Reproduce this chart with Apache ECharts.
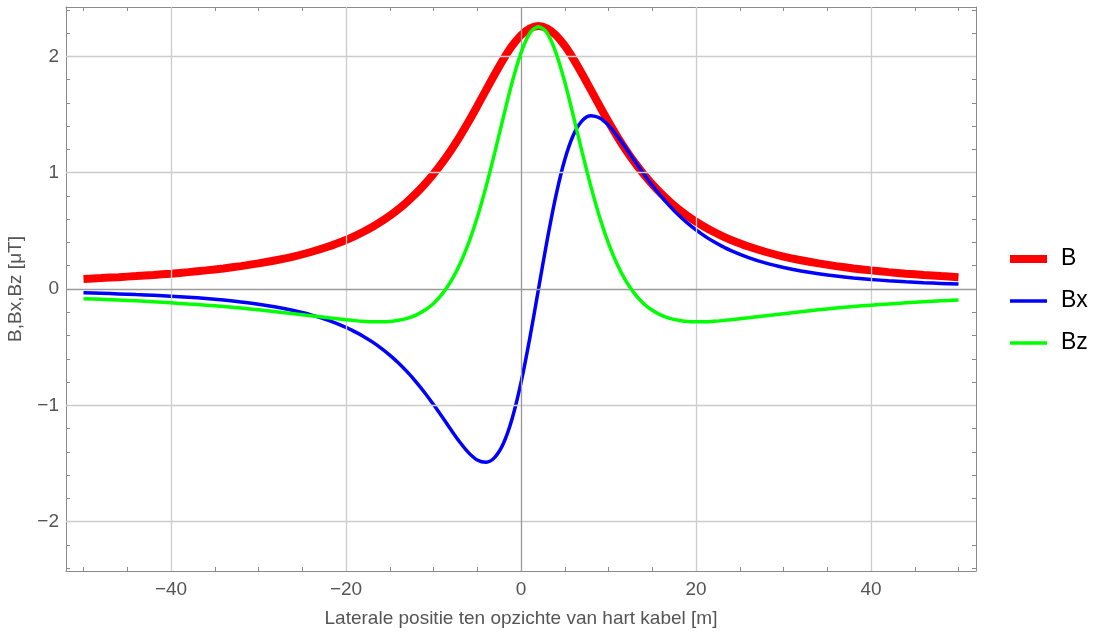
<!DOCTYPE html>
<html>
<head>
<meta charset="utf-8">
<script src="https://cdn.jsdelivr.net/npm/echarts@6/dist/echarts.min.js"></script>
<style>
html,body{margin:0;padding:0;background:#fff;}
#c{width:1093px;height:632px;}
</style>
</head>
<body>
<div id="c"></div>
<script>
// Lateral position [m]
var xs = [-50,-48,-46,-44,-42,-40,-38,-36,-34,-32,-30,-28,-26,-24,-22,
  -20,-19,-18,-17,-16,-15,-14,-13,-12,-11,-10,-9,-8,-7,-6,-5,-4,-3,-2,-1,
  0,1,2,3,4,5,6,7,8,9,10,11,12,13,14,15,16,17,18,19,20,21,22,23,24,
  26,28,30,32,34,36,38,40,42,44,46,48,50];
// B total [uT]
var seriesB = [0.087,0.094,0.102,0.111,0.121,0.132,0.145,0.160,0.177,0.197,0.220,0.247,0.279,0.318,0.365,
  0.422,0.455,0.492,0.533,0.579,0.630,0.687,0.751,0.822,0.901,0.989,1.086,1.194,1.311,1.438,1.572,1.710,1.847,1.977,2.092,
  2.182,2.240,2.262,2.240,2.182,2.092,1.977,1.847,1.710,1.572,1.438,1.311,1.194,1.086,0.989,0.901,0.822,0.751,0.687,0.630,0.579,0.533,0.492,0.455,0.422,
  0.365,0.318,0.279,0.247,0.220,0.197,0.177,0.160,0.145,0.132,0.121,0.111,0.102];
// Bx [uT]
var seriesBx = [-0.033,-0.037,-0.042,-0.048,-0.054,-0.062,-0.071,-0.082,-0.095,-0.111,-0.131,-0.155,-0.185,-0.222,-0.270,
  -0.330,-0.367,-0.408,-0.455,-0.508,-0.568,-0.636,-0.713,-0.798,-0.892,-0.994,-1.101,-1.211,-1.316,-1.407,-1.470,-1.490,-1.448,-1.327,-1.112,
  -0.806,-0.425,0.000,0.425,0.806,1.112,1.327,1.448,1.490,1.470,1.407,1.316,1.211,1.101,0.994,0.892,0.798,0.713,0.636,0.568,0.508,0.455,0.408,0.367,0.330,
  0.270,0.222,0.185,0.155,0.131,0.111,0.095,0.082,0.071,0.062,0.054,0.048,0.042];
// Bz [uT]
var seriesBz = [-0.083,-0.089,-0.095,-0.102,-0.110,-0.119,-0.129,-0.139,-0.151,-0.164,-0.179,-0.195,-0.212,-0.230,-0.248,
  -0.265,-0.272,-0.278,-0.282,-0.282,-0.279,-0.269,-0.252,-0.224,-0.183,-0.124,-0.042,0.068,0.211,0.392,0.615,0.878,1.173,1.483,1.781,
  2.031,2.200,2.255,2.200,2.031,1.781,1.483,1.173,0.878,0.615,0.392,0.211,0.068,-0.042,-0.124,-0.183,-0.224,-0.252,-0.269,-0.279,-0.282,-0.282,-0.278,-0.272,-0.265,
  -0.248,-0.230,-0.212,-0.195,-0.179,-0.164,-0.151,-0.139,-0.129,-0.119,-0.110,-0.102,-0.095];

var xMajor = [-40,-20,0,20,40];
var xMinor = [-50,-45,-40,-35,-30,-25,-20,-15,-10,-5,0,5,10,15,20,25,30,35,40,45,50];
var yMajor = [-2,-1,0,1,2];
var yMinor = [-2.4,-2.2,-2,-1.8,-1.6,-1.4,-1.2,-1,-0.8,-0.6,-0.4,-0.2,0,0.2,0.4,0.6,0.8,1,1.2,1.4,1.6,1.8,2,2.2,2.4];
var names = ['B','Bx','Bz'];
var xTitle = 'Laterale positie ten opzichte van hart kabel [m]';
var yTitle = 'B,Bx,Bz [\u03bcT]';

function pairs(ys){ return xs.map(function(x,i){ return [x, ys[i]]; }); }
function fmt(v){ return v < 0 ? '\u2212' + Math.abs(v) : String(v); }

var FONT = 'Liberation Sans, Arial, sans-serif';
var frameColor = '#8a8a8a';
var labelColor = '#555555';

var gridLines = [];
xMajor.forEach(function(v){ if (v !== 0) gridLines.push({xAxis: v}); });
yMajor.forEach(function(v){ if (v !== 0) gridLines.push({yAxis: v}); });

function xAx(pos, showLabel){
  return {
    type:'value', position:pos, min:-52, max:52,
    axisLine:{show:true, onZero:false, lineStyle:{color:frameColor, width:1}},
    axisTick:{show:true, inside:true, length:4, customValues:xMinor, lineStyle:{color:frameColor}},
    axisLabel:{show:showLabel, customValues:xMajor, formatter:fmt, fontSize:19, color:labelColor, fontFamily:FONT, margin:9},
    splitLine:{show:false},
    name: showLabel ? xTitle : '', nameLocation:'middle', nameGap:38,
    nameTextStyle:{fontSize:19, color:labelColor, fontFamily:FONT}
  };
}
function yAx(pos, showLabel){
  return {
    type:'value', position:pos, min:-2.425, max:2.425,
    axisLine:{show:true, onZero:false, lineStyle:{color:frameColor, width:1}},
    axisTick:{show:true, inside:true, length:4, customValues:yMinor, lineStyle:{color:frameColor}},
    axisLabel:{show:showLabel, customValues:yMajor, formatter:fmt, fontSize:19, color:labelColor, fontFamily:FONT, margin:7},
    splitLine:{show:false},
    name: showLabel ? yTitle : '', nameLocation:'middle', nameGap:41, nameRotate:90,
    nameTextStyle:{fontSize:19, color:labelColor, fontFamily:FONT}
  };
}

var chart = echarts.init(document.getElementById('c'), null, {renderer:'canvas'});
chart.setOption({
  animation:false,
  backgroundColor:'#ffffff',
  grid:{left:66, right:117, top:7, bottom:61, containLabel:false, outerBoundsMode:'none'},
  xAxis:[xAx('bottom', true), xAx('top', false)],
  yAxis:[yAx('left', true), yAx('right', false)],
  legend:{
    orient:'vertical', left:1010, top:247, padding:0, itemWidth:37, itemHeight:8, itemGap:18,
    textStyle:{fontSize:23, color:'#000', fontFamily:FONT, lineHeight:24, padding:[0,0,0,9]},
    data:[
      {name:'B', icon:'path://M0,0L37,0L37,8L0,8Z'},
      {name:'Bx', icon:'path://M0,0L37,0L37,3.5L0,3.5Z'},
      {name:'Bz', icon:'path://M0,0L37,0L37,3.5L0,3.5Z'}
    ]
  },
  series:[
    {
      name:'_grid', type:'line', data:[], z:1, silent:true,
      markLine:{silent:true, symbol:'none', label:{show:false}, animation:false,
        lineStyle:{color:'#cccccc', width:1.3, type:'solid'},
        data: gridLines.concat([
          {xAxis:0, lineStyle:{color:'#999999', width:1.3, type:'solid'}},
          {yAxis:0, lineStyle:{color:'#999999', width:1.3, type:'solid'}}
        ])
      }
    },
    {name:names[0], type:'line', data:pairs(seriesB), showSymbol:false, symbol:'none', smooth:0.3, z:3,
      color:'#ff0000', lineStyle:{color:'#ff0000', width:8}},
    {name:names[1], type:'line', data:pairs(seriesBx), showSymbol:false, symbol:'none', smooth:0.3, z:4,
      color:'#0000ff', lineStyle:{color:'#0000ff', width:3.5}},
    {name:names[2], type:'line', data:pairs(seriesBz), showSymbol:false, symbol:'none', smooth:0.3, z:5,
      color:'#00ff00', lineStyle:{color:'#00ff00', width:3.5}}
  ]
});
</script>
</body>
</html>
